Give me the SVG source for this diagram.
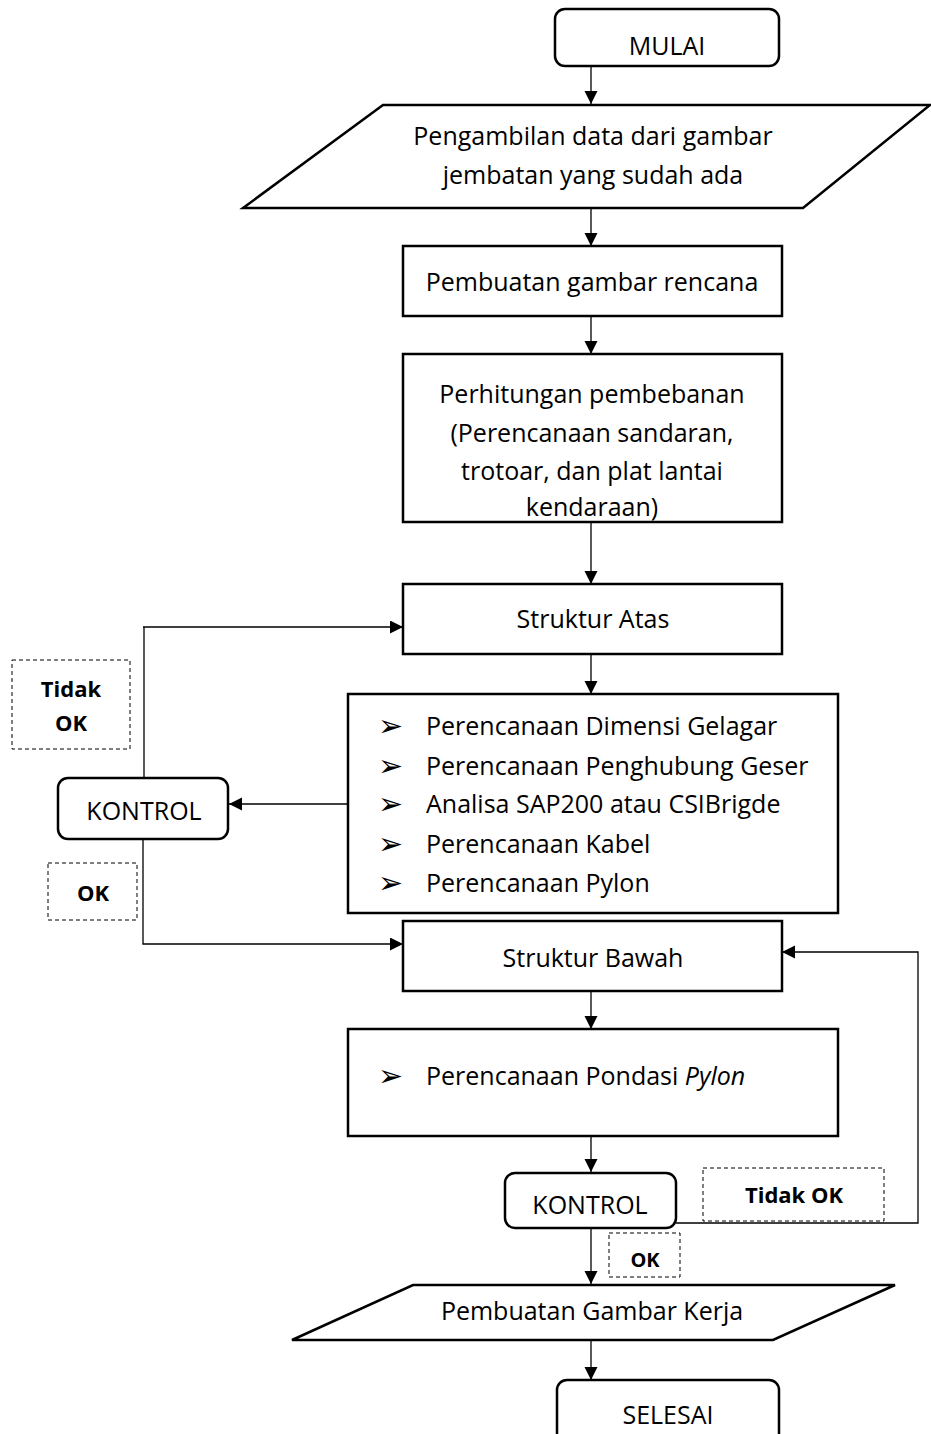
<svg xmlns="http://www.w3.org/2000/svg" width="931" height="1434" viewBox="0 0 931 1434">
<defs>
<style>
.box{fill:#fff;stroke:#000;stroke-width:2.5}
.dash{fill:#fff;stroke:#000;stroke-width:1;stroke-dasharray:4 3}
.t{font-family:"Open Sans","Noto Sans",sans-serif;font-size:25px;fill:#000;text-anchor:middle}
.tl{font-family:"Open Sans","Noto Sans",sans-serif;font-size:25px;fill:#000}
.b{font-family:"Open Sans","Noto Sans",sans-serif;font-size:22px;font-weight:bold;fill:#000;text-anchor:middle}
.bul{font-family:"DejaVu Sans",sans-serif;font-size:30px;fill:#000}
.c{fill:none;stroke:#000;stroke-width:1.3}
</style>
<marker id="ah" markerWidth="14" markerHeight="14" refX="13" refY="6.5" orient="auto" markerUnits="userSpaceOnUse">
<path d="M0,0 L13,6.5 L0,13 Z" fill="#000"/>
</marker>
</defs>
<rect width="931" height="1434" fill="#fff"/>
<g id="connectors">
<path class="c" d="M591,66 V104" marker-end="url(#ah)"/>
<path class="c" d="M591,208 V246" marker-end="url(#ah)"/>
<path class="c" d="M591,316 V354" marker-end="url(#ah)"/>
<path class="c" d="M591,522 V584" marker-end="url(#ah)"/>
<path class="c" d="M591,654 V694" marker-end="url(#ah)"/>
<path class="c" d="M348,804 H229" marker-end="url(#ah)"/>
<path class="c" d="M144,778 V627 M143,627 H403" marker-end="url(#ah)"/>
<path class="c" d="M143,839 V944 H403" marker-end="url(#ah)"/>
<path class="c" d="M591,991 V1029" marker-end="url(#ah)"/>
<path class="c" d="M591,1136 V1172" marker-end="url(#ah)"/>
<path class="c" d="M676,1223 H918 V952 H782" marker-end="url(#ah)"/>
<path class="c" d="M591,1228 V1284" marker-end="url(#ah)"/>
<path class="c" d="M591,1340 V1380" marker-end="url(#ah)"/>
</g>
<g id="mulai">
<rect class="box" x="555" y="9" width="224" height="57" rx="10"/>
<text class="t" x="667" y="55">MULAI</text>
</g>
<g id="pengambilan">
<polygon class="box" points="383,105 930,105 803,208 243,208"/>
<text class="t" x="593" y="145">Pengambilan data dari gambar</text>
<text class="t" x="593" y="184">jembatan yang sudah ada</text>
</g>
<g id="pembuatan-rencana">
<rect class="box" x="403" y="246" width="379" height="70"/>
<text class="t" x="592" y="291">Pembuatan gambar rencana</text>
</g>
<g id="perhitungan">
<rect class="box" x="403" y="354" width="379" height="168"/>
<text class="t" x="592" y="403">Perhitungan pembebanan</text>
<text class="t" x="592" y="442">(Perencanaan sandaran,</text>
<text class="t" x="592" y="480">trotoar, dan plat lantai</text>
<text class="t" x="592" y="516">kendaraan)</text>
</g>
<g id="struktur-atas">
<rect class="box" x="403" y="584" width="379" height="70"/>
<text class="t" x="593" y="628">Struktur Atas</text>
</g>
<g id="list-atas">
<rect class="box" x="348" y="694" width="490" height="219"/>
<text class="bul" x="378" y="736">➢</text>
<text class="tl" x="426" y="735">Perencanaan Dimensi Gelagar</text>
<text class="bul" x="378" y="776">➢</text>
<text class="tl" x="426" y="775">Perencanaan Penghubung Geser</text>
<text class="bul" x="378" y="814">➢</text>
<text class="tl" x="426" y="813">Analisa SAP200 atau CSIBrigde</text>
<text class="bul" x="378" y="854">➢</text>
<text class="tl" x="426" y="853">Perencanaan Kabel</text>
<text class="bul" x="378" y="893">➢</text>
<text class="tl" x="426" y="892">Perencanaan Pylon</text>
</g>
<g id="kontrol-1">
<rect class="box" x="58" y="778" width="170" height="61" rx="10"/>
<text class="t" x="144" y="820">KONTROL</text>
</g>
<g id="label-tidak-ok-1">
<rect class="dash" x="12" y="660" width="118" height="89"/>
<text class="b" x="71" y="697">Tidak</text>
<text class="b" x="71" y="731">OK</text>
</g>
<g id="label-ok-1">
<rect class="dash" x="48" y="863" width="89" height="57"/>
<text class="b" x="93" y="901">OK</text>
</g>
<g id="struktur-bawah">
<rect class="box" x="403" y="921" width="379" height="70"/>
<text class="t" x="593" y="967">Struktur Bawah</text>
</g>
<g id="pondasi">
<rect class="box" x="348" y="1029" width="490" height="107"/>
<text class="bul" x="378" y="1086">➢</text>
<text class="tl" x="426" y="1085">Perencanaan Pondasi <tspan font-style="italic">Pylon</tspan></text>
</g>
<g id="kontrol-2">
<rect class="box" x="505" y="1173" width="171" height="55" rx="10"/>
<text class="t" x="590" y="1214">KONTROL</text>
</g>
<g id="label-tidak-ok-2">
<rect class="dash" x="703" y="1168" width="181" height="53"/>
<text class="b" x="794" y="1203">Tidak OK</text>
</g>
<g id="label-ok-2">
<rect class="dash" x="609" y="1233" width="71" height="44"/>
<text class="b" x="645" y="1267" style="font-size:20px">OK</text>
</g>
<g id="gambar-kerja">
<polygon class="box" points="413,1285 895,1285 773,1340 292,1340"/>
<text class="t" x="592" y="1320">Pembuatan Gambar Kerja</text>
</g>
<g id="selesai">
<rect class="box" x="557" y="1380" width="222" height="70" rx="10"/>
<text class="t" x="668" y="1424">SELESAI</text>
</g>
</svg>
